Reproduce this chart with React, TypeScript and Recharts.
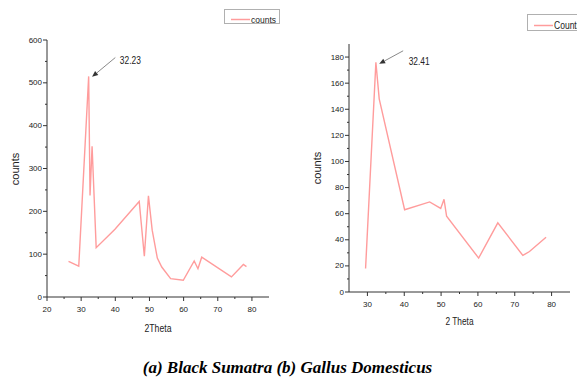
import React from 'react';
import { LineChart, Line, XAxis, YAxis, ReferenceLine, Label } from 'recharts';

// (a) Black Sumatra
const sumatraTheta = [26.3, 29.3, 32.2, 32.6, 33.2, 34.4, 39.9, 47.0, 48.5, 49.7, 50.8, 52.3, 53.6, 56.2, 59.9, 63.1, 64.2, 65.3, 74.0, 77.5, 78.4];
const sumatraCounts = [83, 72, 515, 237, 352, 115, 158, 223, 95, 236, 156, 91, 70, 43, 39, 84, 66, 93, 47, 76, 71];
// (b) Gallus Domesticus
const gallusTheta = [29.5, 32.3, 33.2, 40.1, 46.9, 49.9, 50.8, 51.5, 60.2, 65.4, 72.2, 74.0, 78.5];
const gallusCounts = [18, 176, 148, 63, 69, 64, 71, 58, 26, 53, 28, 31, 42];

const sumatraXTicks = [20, 25, 30, 35, 40, 45, 50, 55, 60, 65, 70, 75, 80];
const sumatraYTicks = [0, 50, 100, 150, 200, 250, 300, 350, 400, 450, 500, 550, 600];
const gallusXTicks = [30, 35, 40, 45, 50, 55, 60, 65, 70, 75, 80];
const gallusYTicks = [0, 10, 20, 30, 40, 50, 60, 70, 80, 90, 100, 110, 120, 130, 140, 150, 160, 170, 180];

const sumatraPeak = { label: '32.23', from: { x: 40.0, y: 559 }, to: { x: 33.2, y: 514 } };
const gallusPeak = { label: '32.41', from: { x: 39.7, y: 184.8 }, to: { x: 33.2, y: 174.8 } };

const sumatraData = sumatraTheta.map((t, i) => ({ theta: t, counts: sumatraCounts[i] }));
const gallusData = gallusTheta.map((t, i) => ({ theta: t, counts: gallusCounts[i] }));

const LINE = '#ff9c9c';
const AXIS = '#333';
const FONT = '"Liberation Sans", Arial, sans-serif';

const makeYTick = (step: number) => (props: any) => {
  const { x, y, payload } = props;
  const v = payload.value;
  const major = v % step === 0;
  return (
    <g>
      <line x1={x - (major ? 4 : 2)} x2={x} y1={y} y2={y} stroke={AXIS} strokeWidth={1} />
      {major && (
        <text x={x - 5} y={y} textAnchor="end" dominantBaseline="central" fontSize={8} fill="#222" fontFamily={FONT}>
          {v}
        </text>
      )}
    </g>
  );
};

const XTick = (props: any) => {
  const { x, y, payload } = props;
  const v = payload.value;
  const major = v % 10 === 0;
  return (
    <g>
      <line x1={x} x2={x} y1={y} y2={y + (major ? 4 : 2)} stroke={AXIS} strokeWidth={1} />
      {major && (
        <text x={x} y={y + 12} textAnchor="middle" dominantBaseline="central" fontSize={8} fill="#222" fontFamily={FONT}>
          {v}
        </text>
      )}
    </g>
  );
};

const makeArrow = (label: string, dx: number, dy: number) => (props: any) => {
  const { x1, y1, x2, y2 } = props;
  const ang = Math.atan2(y2 - y1, x2 - x1);
  const L = 6;
  const W = 2.5;
  const bx = x2 - L * Math.cos(ang);
  const by = y2 - L * Math.sin(ang);
  const px = -Math.sin(ang) * W;
  const py = Math.cos(ang) * W;
  return (
    <g>
      <line x1={x1} y1={y1} x2={bx} y2={by} stroke="#8a8a8a" strokeWidth={1} />
      <polygon points={`${x2},${y2} ${bx + px},${by + py} ${bx - px},${by - py}`} fill="#333" />
      <text x={x1 + dx} y={y1 + dy} dominantBaseline="central" fontSize={11} textLength={21} lengthAdjust="spacingAndGlyphs" fill="#222" fontFamily={FONT}>
        {label}
      </text>
    </g>
  );
};

const xLabel = (text: string, dy: number, len: number) => (props: any) => {
  const vb = props.viewBox || {};
  return (
    <text x={vb.x + vb.width / 2} y={vb.y + dy} textAnchor="middle" dominantBaseline="central" fontSize={10} textLength={len} lengthAdjust="spacingAndGlyphs" fill="#222" fontFamily={FONT}>
      {text}
    </text>
  );
};

const yLabel = (text: string, dxFromAxis: number, cy: number) => (props: any) => {
  const vb = props.viewBox || {};
  const x = vb.x + vb.width - dxFromAxis;
  return (
    <text x={x} y={cy} transform={`rotate(-90, ${x}, ${cy})`} textAnchor="middle" dominantBaseline="central" fontSize={11} fill="#222" fontFamily={FONT}>
      {text}
    </text>
  );
};

const LegendBox = ({ left, top, width, height, text, fontSize, textLen }: any) => (
  <div style={{ position: 'absolute', left, top, width, height, border: '1px solid #b0b0b0', boxSizing: 'border-box', background: '#fff' }}>
    <svg width={width + 30} height={height} style={{ position: 'absolute', left: 0, top: 0, overflow: 'visible' }}>
      <line x1={6} x2={25} y1={height / 2 + 2} y2={height / 2 + 2} stroke={LINE} strokeWidth={1.5} />
      <text x={26} y={height / 2 + 2} dominantBaseline="central" fontSize={fontSize} textLength={textLen} lengthAdjust="spacingAndGlyphs" fill="#222" fontFamily={FONT}>
        {text}
      </text>
    </svg>
  </div>
);

export default function App() {
  return (
    <div style={{ position: 'absolute', left: 0, top: 0, width: 577, height: 377, overflow: 'hidden', background: '#fff' }}>
      <div style={{ position: 'absolute', left: 0, top: 0 }}>
        <LineChart width={290} height={340} data={sumatraData} margin={{ top: 40, right: 21, bottom: 13, left: 0 }}>
          <XAxis
            dataKey="theta"
            type="number"
            domain={[20, 85]}
            ticks={sumatraXTicks}
            interval={0}
            height={30}
            tickSize={0}
            tickMargin={0}
            tick={XTick}
            axisLine={{ stroke: AXIS, strokeWidth: 1 }}
          >
            <Label content={xLabel('2Theta', 31.5, 27)} />
          </XAxis>
          <YAxis
            type="number"
            domain={[0, 600]}
            ticks={sumatraYTicks}
            interval={0}
            width={47}
            tickSize={0}
            tickMargin={0}
            tick={makeYTick(100)}
            axisLine={{ stroke: AXIS, strokeWidth: 1 }}
          >
            <Label content={yLabel('counts', 32, 169)} />
          </YAxis>
          <Line type="linear" dataKey="counts" stroke={LINE} strokeWidth={1.4} dot={false} isAnimationActive={false} />
          <ReferenceLine segment={[sumatraPeak.from, sumatraPeak.to]} shape={makeArrow(sumatraPeak.label, 4.5, 2.5)} ifOverflow="visible" />
        </LineChart>
      </div>
      <div style={{ position: 'absolute', left: 290, top: 0 }}>
        <LineChart width={287} height={340} data={gallusData} margin={{ top: 44, right: 7, bottom: 18, left: 0 }}>
          <XAxis
            dataKey="theta"
            type="number"
            domain={[25, 85]}
            ticks={gallusXTicks}
            interval={0}
            height={30}
            tickSize={0}
            tickMargin={0}
            tick={XTick}
            axisLine={{ stroke: AXIS, strokeWidth: 1 }}
          >
            <Label content={xLabel('2 Theta', 29.5, 28)} />
          </XAxis>
          <YAxis
            type="number"
            domain={[0, 190]}
            ticks={gallusYTicks}
            interval={0}
            width={59}
            tickSize={0}
            tickMargin={0}
            tick={makeYTick(20)}
            axisLine={{ stroke: AXIS, strokeWidth: 1 }}
          >
            <Label content={yLabel('counts', 32.5, 168)} />
          </YAxis>
          <Line type="linear" dataKey="counts" stroke={LINE} strokeWidth={1.4} dot={false} isAnimationActive={false} />
          <ReferenceLine segment={[gallusPeak.from, gallusPeak.to]} shape={makeArrow(gallusPeak.label, 5.5, 10)} ifOverflow="visible" />
        </LineChart>
      </div>
      <LegendBox left={224} top={9} width={56} height={15} text="counts" fontSize={9} textLen={25} />
      <LegendBox left={527} top={14} width={80} height={17} text="Counts" fontSize={10} textLen={27} />
      <div
        style={{
          position: 'absolute',
          left: 0,
          top: 358,
          width: 575,
          textAlign: 'center',
          fontFamily: '"Liberation Serif", "Times New Roman", Tinos, "DejaVu Serif", serif',
          fontWeight: 'bold',
          fontStyle: 'italic',
          fontSize: 17,
          lineHeight: '20px',
          color: '#000',
        }}
      >
        (a) Black Sumatra (b) Gallus Domesticus
      </div>
    </div>
  );
}
